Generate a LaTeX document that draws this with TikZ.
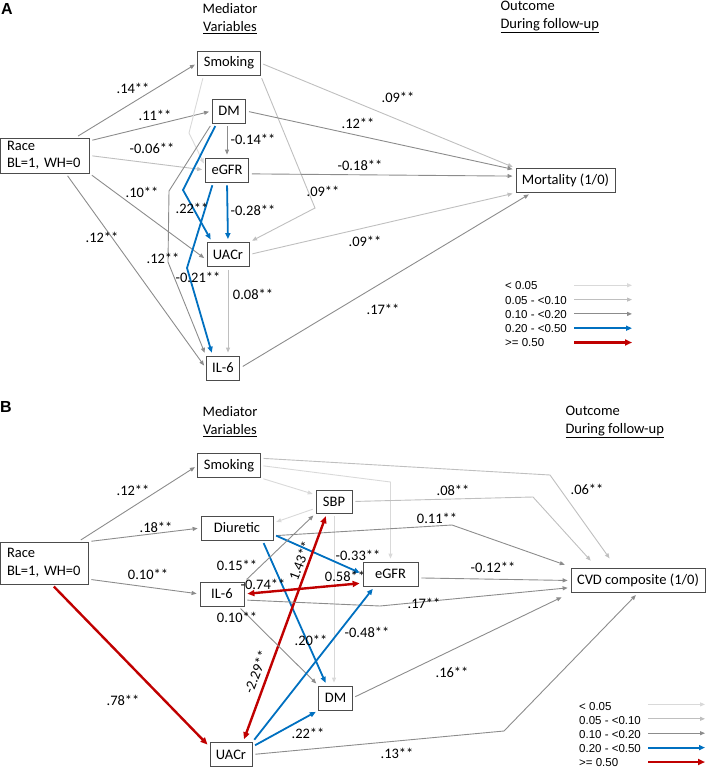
\documentclass[tikz,border=0pt]{standalone}
\usepackage{fontspec}
\setmainfont{Carlito}
\newfontfamily\legfont{Liberation Sans}
\usetikzlibrary{arrows.meta,positioning}
\definecolor{pgray}{HTML}{D9D9D9}
\definecolor{lgray}{HTML}{BFBFBF}
\definecolor{mgray}{HTML}{8C8C8C}
\definecolor{pblue}{HTML}{0070C0}
\definecolor{pred}{HTML}{C00000}
\tikzset{
  var/.style={rectangle, draw=black!70, line width=0.8pt, font=\fontsize{14.5}{17.5}\selectfont, inner xsep=6pt, inner ysep=2pt, minimum height=24pt},
  coef/.style={font=\fontsize{14.5}{17.5}\selectfont, inner sep=1pt},
  head/.style={font=\fontsize{14.5}{18}\selectfont, align=center},
  panel/.style={font=\legfont\bfseries\fontsize{16}{18}\selectfont, inner sep=0pt},
  legtext/.style={font=\legfont\fontsize{11.5}{13}\selectfont, anchor=west, inner sep=0pt},
  faint/.style={draw=pgray, line width=0.9pt, >={Triangle[length=5pt,width=4pt]}, ->, shorten <=3pt, shorten >=3pt},
  light/.style={draw=lgray, line width=0.9pt, >={Triangle[length=5pt,width=4pt]}, ->, shorten <=3pt, shorten >=3pt},
  medium/.style={draw=mgray, line width=0.9pt, >={Triangle[length=5pt,width=4pt]}, ->, shorten <=3pt, shorten >=3pt},
  strong/.style={draw=pblue, line width=1.8pt, >={Triangle[length=6pt,width=5pt]}, ->, shorten <=3pt, shorten >=3pt},
  heavy/.style={draw=pred, line width=2.4pt, >={Triangle[length=7pt,width=6pt]}, ->, shorten <=3pt, shorten >=3pt}
}

\begin{document}
\begin{tikzpicture}[x=1pt, y=-1pt]
\useasboundingbox (0,0) rectangle (709,771);

% ---- panel A: mortality
\node[panel] (tagA) at (7,9) {A};
\node[head] (medA) at (230,19) {Mediator\\\underline{Variables}};
\node[head, anchor=west, align=left] (outA) at (497,17) {Outcome\\\underline{During follow-up}};

\node[var, text width=75pt, align=left, inner xsep=7pt, minimum height=35pt] (raceA) at (44.5,155.5) {Race\\BL=1, WH=0};
\node[var] (smokA) at (229,63) {Smoking};
\node[var] (dmA) at (229,111) {DM};
\node[var] (egfrA) at (227,170) {eGFR};
\node[var] (uacrA) at (228,254.5) {UACr};
\node[var] (ilA) at (223,368) {IL-6};
\node[var] (mortA) at (565.5,180.5) {Mortality (1/0)};

\draw[medium] (raceA.30) -- (smokA.west);
\draw[medium] (raceA.18) -- (dmA.west);
\draw[light] (raceA.east) -- (egfrA.west);
\draw[medium] (raceA.south east) -- (uacrA.194);
\draw[medium] (raceA.-40) -- (ilA.west);
\draw[faint] (smokA.206) -- (189,133) -- (egfrA.170);
\draw[light] (smokA.south east) -- (315,208) -- (uacrA.north east);
\draw[light] (smokA.east) -- (mortA.north west);
\draw[medium] (dmA.east) -- (mortA.168);
\draw[medium] (egfrA.north |- dmA.south) -- (egfrA.north);
\draw[strong] (dmA.-135) -- (183,190) -- (uacrA.142);
\draw[medium] (dmA.south west) -- (169,191) -- (168,262) -- (ilA.north west);
\draw[strong] (egfrA.south) -- (uacrA.north);
\draw[strong] (egfrA.-138) -- (187,268) -- (ilA.130);
\draw[medium] (egfrA.-10) -- (mortA.175);
\draw[light] (uacrA.south) -- (uacrA.south |- ilA.north);
\draw[light] (uacrA.east) -- (mortA.south west);
\draw[medium] (ilA.east) -- (mortA.-160);

\node[coef] (kA1) at (133,88) {.14**};
\node[coef] (kA2) at (155,115) {.11**};
\node[coef] (kA3) at (152,148) {-0.06**};
\node[coef] (kA4) at (142,192) {.10**};
\node[coef] (kA5) at (102,237) {.12**};
\node[coef] (kA6) at (398,97) {.09**};
\node[coef] (kA7) at (358,123) {.12**};
\node[coef] (kA8) at (253,139) {-0.14**};
\node[coef] (kA9) at (192,208) {.22**};
\node[coef] (kA10) at (163,258) {.12**};
\node[coef] (kA11) at (253,210) {-0.28**};
\node[coef] (kA12) at (198,277) {-0.21**};
\node[coef] (kA13) at (360,165) {-0.18**};
\node[coef] (kA14) at (323,191) {.09**};
\node[coef] (kA15) at (253,294) {0.08**};
\node[coef] (kA16) at (365,241) {.09**};
\node[coef] (kA17) at (383,309) {.17**};

\foreach \st/\txt [count=\i] in {faint/{< 0.05}, light/{0.05 - <0.10}, medium/{0.10 - <0.20}, strong/{0.20 - <0.50}, heavy/{>= 0.50}} {
  \node[legtext] (legA\i) at (505,271.5+14.3*\i) {\txt};
  \coordinate (legAs\i) at (574,271+14.3*\i);
  \draw[\st, shorten <=0pt, shorten >=0pt] (legAs\i) -- ++(58,0);
}

% ---- panel B: CVD composite
\node[panel] (tagB) at (6,407) {B};
\node[head] (medB) at (230,422) {Mediator\\\underline{Variables}};
\node[head, anchor=west, align=left] (outB) at (562,422) {Outcome\\\underline{During follow-up}};

\node[var, text width=74pt, align=left, inner xsep=7pt, minimum height=42pt] (raceB) at (44,563) {Race\\BL=1, WH=0};
\node[var] (smokB) at (229,465.5) {Smoking};
\node[var, minimum width=36pt, minimum height=23pt] (sbpB) at (334,501.5) {SBP};
\node[var, minimum width=72pt] (diurB) at (237,528) {Diuretic};
\node[var, minimum width=44pt] (ilB) at (222,594) {IL-6};
\node[var, minimum width=55pt] (egfrB) at (390.5,574) {eGFR};
\node[var] (cvdB) at (638,580.5) {CVD composite (1/0)};
\node[var] (dmB) at (335.5,698) {DM};
\node[var] (uacrB) at (231,754.5) {UACr};

\draw[medium] (raceB.32) -- (smokB.west);
\draw[medium] (raceB.north east) -- (diurB.west);
\draw[medium] (raceB.-20) -- (ilB.west);
\draw[heavy] (raceB.-70) -- (uacrB.160);
\draw[faint] (smokB.south east) -- (sbpB.160);
\draw[faint] (smokB.east) -- (390.5,482) -- (egfrB.north);
\draw[light, shorten >=12pt] (smokB.13) -- (550,475) -- (cvdB.150);
\draw[light, shorten >=10pt] (sbpB.east) -- (533,497) -- (cvdB.163);
\draw[faint] (sbpB.200) -- (diurB.8);
\draw[faint] (sbpB.south) -- (sbpB.south |- dmB.north);
\draw[medium, shorten >=10pt] (diurB.-12) -- (452,525) -- (cvdB.169);
\draw[strong] (diurB.-10) -- (egfrB.west);
\draw[strong] (diurB.-26) -- (dmB.125);
\draw[heavy, <->] (ilB.east) -- (egfrB.198);
\draw[heavy, <->] (uacrB.46) -- (sbpB.-121);
\draw[medium] (ilB.north east) -- (sbpB.south west);
\draw[medium] (ilB.-15) -- (380,606) -- (cvdB.186);
\draw[medium] (ilB.-37) -- (dmB.north west);
\draw[strong] (uacrB.north east) -- (egfrB.-142);
\draw[strong] (uacrB.20) -- (dmB.south west);
\draw[medium] (uacrB.east) -- (504,731) -- (cvdB.south);
\draw[medium, shorten >=10pt] (dmB.east) -- (cvdB.south west);
\draw[medium] (egfrB.-8) -- (cvdB.west);

\node[coef] (kB1) at (133,490) {.12**};
\node[coef] (kB2) at (156,527) {.18**};
\node[coef] (kB3) at (148,574) {0.10**};
\node[coef] (kB4) at (123,700) {.78**};
\node[coef] (kB5) at (587,489) {.06**};
\node[coef] (kB6) at (453,490) {.08**};
\node[coef] (kB7) at (437,518) {0.11**};
\node[coef] (kB8) at (237,565) {0.15**};
\node[coef] (kB9) at (358,555) {-0.33**};
\node[coef] (kB10) at (311,640) {.20**};
\node[coef] (kB11) at (263,584) {-0.74**};
\node[coef] (kB12) at (345,576) {0.58**};
\node[coef, rotate=69] (kB13) at (300,561) {1.43**};
\node[coef, rotate=69] (kB14) at (256,672) {-2.29**};
\node[coef] (kB15) at (424,603) {.17**};
\node[coef] (kB16) at (237,617) {0.10**};
\node[coef] (kB17) at (367,632) {-0.48**};
\node[coef] (kB18) at (308,733) {.22**};
\node[coef] (kB19) at (397,753) {.13**};
\node[coef] (kB20) at (452,672) {.16**};
\node[coef] (kB21) at (493,567) {-0.12**};

\foreach \st/\txt [count=\i] in {faint/{< 0.05}, light/{0.05 - <0.10}, medium/{0.10 - <0.20}, strong/{0.20 - <0.50}, heavy/{>= 0.50}} {
  \node[legtext] (legB\i) at (579,693+14*\i) {\txt};
  \coordinate (legBs\i) at (648,690+14.4*\i);
  \draw[\st, shorten <=0pt, shorten >=0pt] (legBs\i) -- ++(57,0);
}
\end{tikzpicture}
\end{document}
